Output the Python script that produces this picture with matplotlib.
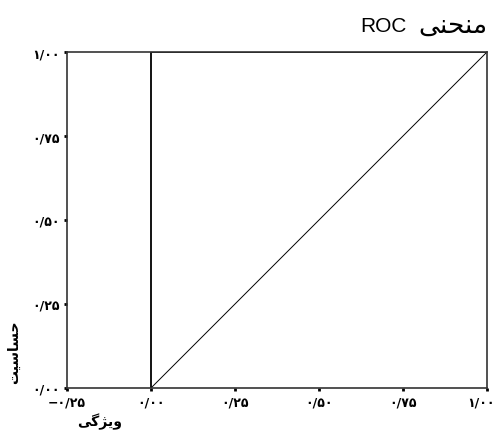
import matplotlib
matplotlib.use("Agg")
import matplotlib.pyplot as plt
import matplotlib.transforms as mtransforms

# ROC curve points and the chance diagonal
roc_x = [0.0, 0.0, 1.0]
roc_y = [0.0, 1.0, 1.0]
ref_x = [0.0, 1.0]
ref_y = [0.0, 1.0]

x_ticks = [-0.25, 0.0, 0.25, 0.50, 0.75, 1.00]
x_tick_labels = ["\u2212\u06f0/\u06f2\u06f5", "\u06f0/\u06f0\u06f0", "\u06f0/\u06f2\u06f5",
                 "\u06f0/\u06f5\u06f0", "\u06f0/\u06f7\u06f5", "\u06f1/\u06f0\u06f0"]
y_ticks = [0.0, 0.25, 0.50, 0.75, 1.00]
y_tick_labels = ["\u06f0/\u06f0\u06f0", "\u06f0/\u06f2\u06f5", "\u06f0/\u06f5\u06f0",
                 "\u06f0/\u06f7\u06f5", "\u06f1/\u06f0\u06f0"]

# Persian words, pre-shaped in visual (left to right) order
title_fa = "\ufef0\ufee8\ufea4\ufee8\ufee3"     # منحنی
title_en = "ROC"
ylabel_txt = "\ufe96\ufef4\ufeb3\ufe8e\ufeb4\ufea3"   # حساسیت
xlabel_txt = "\ufef0\ufb94\ufb8b\ufef3\ufeed"         # ویژگی

plt.rcParams['font.family'] = ['DejaVu Sans']

fig = plt.figure(figsize=(4.95, 4.31), dpi=100)
ax = fig.add_axes([67 / 495, 1 - 389 / 431, 420 / 495, 336 / 431])

ax.plot(roc_x, roc_y, color='black', linewidth=1.3)
ax.plot(ref_x, ref_y, color='black', linewidth=0.7)

ax.set_xlim(-0.25, 1.0)
ax.set_ylim(0.0, 1.0)
ax.set_xticks(x_ticks)
ax.set_xticklabels(x_tick_labels, fontsize=9, fontweight='bold')
ax.set_yticks(y_ticks)
ax.set_yticklabels(y_tick_labels, fontsize=9, fontweight='bold')
ax.tick_params(direction='out', length=2.5, width=2, pad=3)

# last x label sits a bit inside the right edge
last = ax.get_xticklabels()[-1]
last.set_transform(last.get_transform() + mtransforms.ScaledTranslation(-6 / 100, 0, fig.dpi_scale_trans))

for s in ax.spines.values():
    s.set_linewidth(1.2)
    s.set_color('#333333')

fig.text(487 / 495, 1 - 26 / 431, title_fa, ha='right', va='center', fontsize=19)
fig.text(407 / 495, 1 - 26 / 431, title_en, ha='right', va='center', fontsize=15,
         family=['Liberation Sans', 'DejaVu Sans'])
fig.text(14 / 495, 1 - 352 / 431, ylabel_txt, ha='center', va='center',
         rotation=90, fontsize=10, fontweight='bold')
fig.text(100 / 495, 1 - 422 / 431, xlabel_txt, ha='center', va='center',
         fontsize=10, fontweight='bold')

fig.savefig('out.png', dpi=100)
